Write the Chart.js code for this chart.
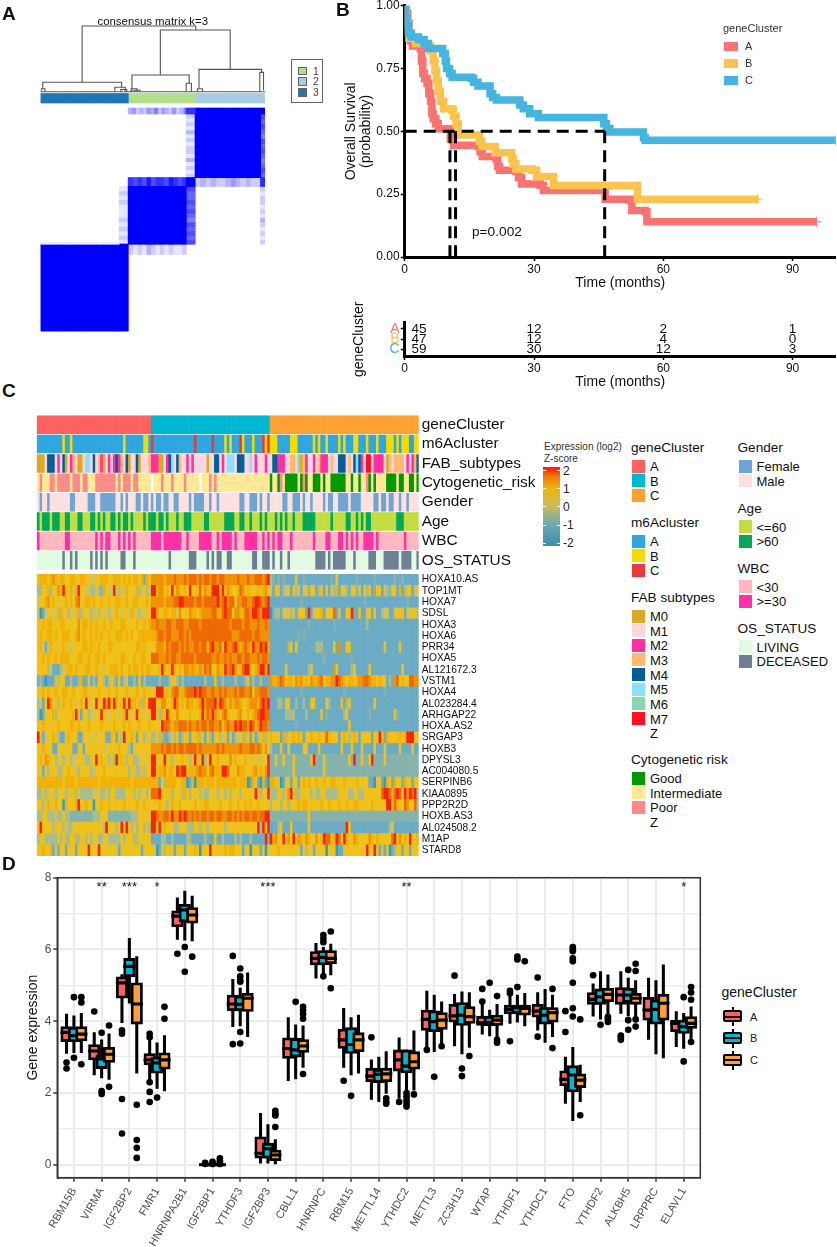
<!DOCTYPE html>
<html>
<head>
<meta charset="utf-8">
<script src="https://cdn.jsdelivr.net/npm/chart.js@4"></script>
<style>
  html, body { margin: 0; background: #fff; }
  #page { position: relative; width: 837px; height: 1247px; overflow: hidden; font-family: "Liberation Sans", Arial, sans-serif; color: #111; }
  canvas { position: absolute; }
  .t { position: absolute; white-space: nowrap; transform: translateY(-50%); }
  .s { position: absolute; }
</style>
</head>
<body>
<div id="page">
  <canvas id="matrixChart" width="340" height="340" style="left:0;top:0"></canvas>
  <canvas id="kmChart" width="497" height="295" style="left:340px;top:0"></canvas>
  <canvas id="riskChart" width="497" height="97" style="left:340px;top:295px"></canvas>
  <canvas id="annoChart" width="540" height="155" style="left:0;top:415px"></canvas>
  <canvas id="heatChart" width="540" height="282" style="left:0;top:573.5px"></canvas>
  <canvas id="boxChart" width="720" height="387" style="left:0;top:860px"></canvas>
</div>
<script>
// --- Panel A data: consensus matrix (samples 0..151) ---
const consensusBlocks = [
  [98, 104, 0, 4, 0.8], [104, 151, 0, 4, 1],
  [104, 148, 4, 47, 1],
  [98, 104, 47, 53, 1], [148, 151, 47, 53, 0.83],
  [59, 98, 53, 92, 1],
  [0, 53, 91, 92, 0.08], [0, 59, 92, 151, 1], [59, 60, 99, 151, 0.05]
];
// patchy strips between clusters: x0, x1, y0, y1, consensus tenths along the strip
const consensusStrips = [
  [59, 98, 0, 4, "3423243524324235"],
  [98, 104, 4, 47, "2121312122131212"],
  [148, 151, 4, 47, "7676576765676"],
  [59, 98, 47, 53, "8787978879878"],
  [104, 148, 47, 53, "2323223432322"],
  [53, 59, 53, 92, "1212111212121"],
  [98, 104, 53, 92, "7667676576767"],
  [148, 151, 53, 92, "2122121321212"],
  [59, 98, 92, 99, "2121321212112"]
];
const consensusGroups = [[0, 59, "3"], [59, 104, "1"], [104, 151, "2"]];
// each node: left x, left bottom, top, right x, right bottom (height as negative row)
const dendroNodes = [
  [0, -11, -11, 151, -11],
  [28, -17.4, -55.4, 104.4, -52.7],
  [80.6, -22.3, -52.7, 127.6, -26.1],
  [61.5, -11, -22.3, 100, -16.7],
  [106.6, -13, -26.1, 148.7, -24.1],
  [1.5, -13, -17.4, 54.6, -14],
  [98, -11, -16.7, 101.5, -11],
  [147.5, -11, -24.1, 150, -12],
  [0.5, -11, -13, 3, -11],
  [50, -11, -14, 57, -11.5],
  [54, -11, -12.5, 58, -11],
  [61, -11, -13, 65, -11],
  [63, -11, -12, 67, -11],
  [105.5, -11, -13, 109, -11]
];

// --- Panel B data: survival steps [month, probability] ---
const survA = [[0, 1], [0.4, 0.97], [0.7, 0.93], [1, 0.89], [1.3, 0.86], [1.8, 0.84], [3.6, 0.83], [3.9, 0.78], [4.2, 0.73], [4.6, 0.71], [5.2, 0.69], [5.6, 0.65], [6, 0.62], [6.3, 0.57], [6.6, 0.55], [7.2, 0.53], [7.8, 0.51], [10.4, 0.51], [10.6, 0.47], [11.3, 0.445], [17, 0.44], [17.5, 0.42], [18, 0.4], [21.2, 0.39], [21.6, 0.36], [22, 0.345], [25.8, 0.34], [26.4, 0.315], [27.1, 0.29], [31.4, 0.285], [32.2, 0.265], [46, 0.265], [46.5, 0.23], [52.3, 0.225], [52.7, 0.185], [55.8, 0.18], [56.2, 0.14], [95.6, 0.14]];
const survB = [[0, 1], [0.3, 0.93], [0.6, 0.89], [1, 0.87], [2.5, 0.85], [5.5, 0.84], [6, 0.82], [6.6, 0.78], [7, 0.74], [7.4, 0.7], [7.8, 0.66], [8.3, 0.62], [9, 0.59], [10.9, 0.585], [11.3, 0.56], [11.9, 0.53], [12.4, 0.485], [16.7, 0.485], [17.3, 0.46], [17.9, 0.44], [20.5, 0.44], [21, 0.415], [24.4, 0.415], [24.8, 0.39], [25.2, 0.37], [25.8, 0.35], [29.5, 0.345], [30.6, 0.32], [34.1, 0.32], [34.5, 0.285], [53.8, 0.285], [54, 0.23], [82, 0.23]];
const survC = [[0, 1], [0.2, 0.95], [0.5, 0.92], [0.9, 0.89], [1.5, 0.875], [3.2, 0.865], [4.5, 0.85], [5.5, 0.83], [8.2, 0.83], [8.8, 0.81], [9.4, 0.78], [9.7, 0.75], [10.4, 0.73], [11, 0.715], [15.5, 0.71], [16, 0.695], [17, 0.68], [19.4, 0.68], [19.8, 0.65], [20.4, 0.635], [21.3, 0.625], [26, 0.625], [26.7, 0.605], [27.5, 0.59], [29, 0.57], [31, 0.555], [45.7, 0.555], [46.2, 0.53], [46.8, 0.51], [47.6, 0.497], [55, 0.497], [55.4, 0.475], [55.8, 0.465], [100, 0.465]];
const medianLines = [[[0, 0.5], [46.4, 0.5]], [[10.5, 0.5], [10.5, 0]], [[11.8, 0.5], [11.8, 0]], [[46.4, 0.5], [46.4, 0]]];
const riskTicks = [0, 30, 60, 90];
const riskLabelAt = [3.3, 30, 60, 90];
const riskGroups = ["A", "B", "C"];
const riskA = [45, 12, 2, 1];
const riskB = [47, 12, 4, 0];
const riskC = [59, 30, 12, 3];

// --- Panel C data: one code per sample, split by gene cluster (45|47|59 samples) ---
const clusterSizes = [45, 47, 59];
const trackNames = ["geneCluster", "m6Acluster", "FAB_subtypes", "Cytogenetic_risk", "Gender", "Age", "WBC", "OS_STATUS"];
const geneClusterTrack = "A|B|C";
const m6aTrack = "aaaaaaaaaabaabaaaaaaaaaaaaaaaaaaaabaaaaaaabba|caaaaaaaaaaaaaaaacaaaaaacaaaababaaacbaaabaaacbc|bbbaaaaabbbaaaaaababaabaaaababaaabbaaabaaabaaabbbababbbaabb";
const fabTrack = "00144412140123100155141320121242314011401113|2200124514311212111110114412155514441151211121|14422211331603211213222131144413145421771222210313333121234";
const cytoTrack = "ipiiippipppppipppippiiippppppppipipppippiiiii|ziiipiiipiiiipiiiiiziiipipiiiiiiiiiiiiiiiiiiiii|giigpigggggigpgiigggigiiggggggiigiigiipgigiiiiggggiggiiggig";
// female / age>60 / WBC>=30 / deceased samples, as [first, end) column ranges
const femaleRanges = [[1,2],[4,5],[13,15],[20,23],[25,31],[33,34],[35,36],[39,41],[42,44],[45,46],[47,49],[50,52],[54,56],[60,61],[62,66],[68,69],[71,72],[80,82],[84,87],[88,89],[91,92],[97,99],[101,104],[105,106],[108,109],[113,114],[115,117],[119,123],[124,128],[133,135],[136,138],[139,141],[143,144],[146,147]];
const ageOldRanges = [[0,1],[2,5],[6,9],[11,13],[16,18],[21,23],[24,25],[26,27],[29,31],[32,33],[34,36],[37,38],[42,43],[44,47],[48,50],[51,52],[55,56],[58,61],[66,68],[74,78],[80,82],[84,85],[88,89],[90,91],[94,95],[96,97],[98,99],[101,102],[105,107],[107,110],[116,117],[122,124],[126,127],[128,129],[130,132],[142,145]];
const wbcHighRanges = [[0,1],[11,13],[23,24],[25,26],[27,29],[32,33],[34,35],[36,37],[38,39],[45,49],[50,57],[59,60],[64,69],[71,72],[73,77],[78,79],[82,87],[89,90],[91,92],[93,94],[95,97],[100,101],[109,110],[114,116],[119,121],[122,123],[124,125],[126,127],[129,133],[134,135],[145,146]];
const deceasedRanges = [[10,11],[13,14],[15,16],[21,22],[23,24],[25,26],[27,28],[33,35],[38,39],[52,53],[60,63],[67,68],[69,70],[71,73],[75,77],[85,87],[89,92],[93,94],[96,97],[99,100],[110,114],[115,116],[117,122],[125,126],[131,134],[137,143],[144,148],[150,151]];

const heatGenes = ["HOXA10.AS", "TOP1MT", "HOXA7", "SDSL", "HOXA3", "HOXA6", "PRR34", "HOXA5", "AL121672.3", "VSTM1", "HOXA4", "AL023284.4", "ARHGAP22", "HOXA.AS2", "SRGAP3", "HOXB3", "DPYSL3", "AC004080.5", "SERPINB6", "KIAA0895", "PPP2R2D", "HOXB.AS3", "AL024508.2", "M1AP", "STARD8"];
// digits 0..9 = binned z-score, low to high
const heatRows = [
  "566656765665566556655445566655666565656656165|77776777877787887878878878877778777877888789|32121211115112111111111121511111112111111211111112112111111",
  "335563557695564695544335326544953546554635534|9677565957656595568576699959576556875655565675|41551345153414525513515143615531552415351255143255161355144",
  "455675654556565785566565565565566556556655565|77776777889988878878888897897857788778998789|11111111111121111111111111111111111112111111111111111121111",
  "401455453655345463555345354534565455465435455|9755665664755576656777788668988577668879987999|02331445341455191455614558141155911511451511344114555144553",
  "556566555665555575665656556556555665555655656|7877788778887788887888888888887888878877787787|11111111111111121111111112111111111111311111111111111111111",
  "565566565566655675655656565565566656565566666|6788788777887878888888888888888777888887887777|11111111111212111111111111111111111111111111111111111111111",
  "564146554565445555665655655566555555555665655|5777687888787877887886897785977897678769779896|11111113515111111133311115171155111111111111151111151111111",
  "556565565666655566556556656555555665556556655|8877787887788888788888877877878778878877787887|11111111111111111111121111111111211111111111111111111111111",
  "555534111345665655566556554556665655656656566|5569656965657767667687855766978975689965679969|11111151111111134111111117511111351111151111111111115111111",
  "131011153551131136115131553135315135113151311|11311135531311111113111511311131113513113111|76678756657675657667856677987656656778876656551317856558877",
  "556565565566556555665555655565565556555655655|5999565788667888989887787787877787887785778887|11111111111121111111111111111211111111111111121111111111111",
  "341597553565565456595459559795965695956563659|955775569756576656797889698757677655677768989|11133155113113115511115311115135111111111511111111111111111",
  "301555635555556951553445595545554569545955545|9536596557555565556968797657865556755656789988|11111133331111311111512111111351111111121111111115211111111",
  "556555556555566565556555565555655565655565556|5559887677888787787887887785787798988798679887|11111111112111111111111111111115111111111111111111111111111",
  "951455653115655511555454555116515395565155345|3536113535135515563515315534515135536515135635|65551635565651556556558655515653565155551559516555565699955",
  "556555115555551155155555554455556555315555555|7778788787887888878777777878777777877788787575|31115115111115511115111111115111511151111511151111151111511",
  "565765534535534455433559565535395653553345455|9555955355565535955935955655557565556545544559|22522522252222225922252222222225292252259222252222222222222",
  "551535553355655435555345556555555555355335355|9566756659899566678775786669985557665556756579|22222222252222222222252222222222222222222222222222222222222",
  "666666666656666566666666566666666666656666666|6615366665566016066656665666666665666016510610|66550155155156565565565566555655556555511055106516551655155",
  "335345534553455353333344533535533335553535535|8895555355536535553533555355353555355555953559|33355357953355553533553333355553355335555555899868985979893",
  "553564565506555695565505565565555565555655655|5565535655655555655566555565556556556565565555|35553553555656655555655655565565566555556555559958655875583",
  "335533343353322222222233355522222222233355555|9877887977989878787887887887788787878878878899|22222222222222252222222222222222222222222222222222222222222",
  "595555355535335555555555553955535959535355353|9595655533555333553553555555355555555555593959|11135111511111151111111111111195111111111111111351111111111",
  "355333335353355335535355335533333535553355555|1113311311111331111131115113111131311131111191|96755957595765765575698856985965576555576565555589575659556",
  "556556141551555155559555955555551555555551555|5015355515551555650555955555656655515505551505|55565555555515355155550555011555555555955951515013551551555"
];

// --- Panel D data: [low whisker, q1, median, q3, high whisker] per gene ---
const boxGenes = ["RBM15B", "VIRMA", "IGF2BP2", "FMR1", "HNRNPA2B1", "IGF2BP1", "YTHDF3", "IGF2BP3", "CBLL1", "HNRNPC", "RBM15", "METTL14", "YTHDC2", "METTL3", "ZC3H13", "WTAP", "YTHDF1", "YTHDC1", "FTO", "YTHDF2", "ALKBH5", "LRPPRC", "ELAVL1"];
const boxA = [[3.1,3.43,3.69,3.85,4.2],[2.5,2.92,3.17,3.35,3.68],[3.96,4.64,5.07,5.24,5.3],[2.25,2.78,2.92,3.1,3.6],[6.28,6.63,6.93,7.08,7.44],[0,0,0,0.01,0.02],[3.85,4.29,4.48,4.73,5.17],[0.04,0.18,0.32,0.78,1.43],[2.34,2.96,3.24,3.54,4.1],[5.2,5.57,5.75,5.94,6.17],[2.71,3.24,3.48,3.78,4.36],[1.82,2.31,2.47,2.69,2.92],[1.85,2.61,2.92,3.2,3.54],[3.22,3.74,4.05,4.31,4.84],[3.31,3.97,4.15,4.47,4.75],[3.64,3.88,3.96,4.14,4.47],[3.94,4.2,4.33,4.45,4.73],[3.75,4.11,4.28,4.47,4.8],[1.71,2.2,2.38,2.62,3],[4.14,4.47,4.61,4.8,5.04],[4.22,4.47,4.73,4.94,5.38],[3.49,4.03,4.31,4.67,5.2],[3.29,3.71,3.94,4.03,4.27]];
const boxB = [[3.12,3.43,3.6,3.83,4.15],[2.42,2.68,2.95,3.06,3.48],[4.5,5.24,5.53,5.75,6.31],[2.13,2.55,2.84,3,3.4],[6.26,6.77,7.1,7.26,7.63],[0,0,0,0.01,0.02],[3.87,4.29,4.47,4.7,4.92],[0.04,0.18,0.45,0.6,1.12],[2.39,3,3.2,3.52,3.9],[5.33,5.57,5.78,5.97,6.06],[2.5,3.1,3.35,3.82,4.1],[1.76,2.29,2.52,2.66,3],[1.95,2.56,2.75,3.2,3.2],[3.15,3.71,3.99,4.29,4.73],[3.09,3.88,4.17,4.52,4.82],[3.59,3.87,3.97,4.14,4.31],[3.97,4.22,4.38,4.45,4.73],[3.41,3.92,4.17,4.38,4.89],[1.23,2.03,2.5,2.76,3.27],[4.06,4.47,4.68,4.9,5.38],[4.15,4.52,4.73,4.92,5.2],[3.09,3.92,4.33,4.59,5.13],[3.24,3.66,3.85,4.03,4.22]];
const boxC = [[3.12,3.45,3.64,3.85,4.22],[2.38,2.85,3.08,3.27,3.65],[2.55,3.92,4.48,5.07,5.8],[2.06,2.66,2.92,3.12,3.6],[6.24,6.73,6.96,7.17,7.49],[0,0,0,0.01,0.02],[3.57,4.27,4.64,4.78,5.35],[0.02,0.11,0.27,0.41,0.7],[2.71,3.13,3.31,3.49,3.87],[5.29,5.6,5.75,5.97,6.15],[2.55,3.15,3.48,3.68,4.17],[1.99,2.31,2.53,2.69,3.15],[2.08,2.66,2.87,3.15,3.73],[3.38,3.77,4.03,4.24,4.54],[3.27,3.94,4.13,4.41,4.8],[3.57,3.88,4.03,4.17,4.47],[3.87,4.17,4.36,4.45,4.78],[3.57,3.97,4.24,4.38,4.73],[1.76,2.15,2.36,2.53,2.78],[4.17,4.54,4.75,4.92,5.29],[4.11,4.47,4.64,4.78,5.13],[2.98,4.03,4.5,4.75,5.57],[3.4,3.8,3.94,4.13,4.4]];
const outliersA = [[2.85,2.68],[4.27],[3.75,3.65,1.83,0.87],[3.65,3.55,2.3,2.03,1.75],[5.88],[0.02,0.05],[5.82,3.36],[],[],[],[2.34],[3.55],[1.75],[3.2],[5.27],[4.9,4.55],[4.85,4.78,3.44],[5.22,3.57],[4.28,3.7],[5.28],[3.6,3.55,3.48],[],[]];
const outliersB = [[4.67,2.98],[3.68,2.05,1.97],[],[1.87],[6.07,5.38],[0.03,0.08,0.02],[5.47,5.25,5.15,5.1,3.7,3.38],[],[4.54],[6.4,6.3,6.2,5.25],[1.92],[],[2,1.9,1.8,1.7,1.62],[2.45],[2.68,2.47],[5.07],[5.8,5.72,4.95],[],[6.07,6,5.95,5.75,5.67,5.07,4.36,4.13],[3.9],[5.43,4.03,3.76],[],[4.67,2.88]];
const outliersC = [[4.67,4.52,2.8],[3.88,2.17],[1.67,0.69,0.47,0.19],[4.4,4.07],[5.8],[0.02,0.05,0.18,0.1],[],[1.5,1.42,1.37,1.05],[4.4,4.3,4.2,4.07,2.53],[6.5,4.92],[],[1.85,1.75,1.7],[1.96],[3.3],[3.03],[4.7,3.48,3.4],[5.67],[4.9,3.25],[4.05,1.38],[4.12,4.05,3.98],[5.6,5.4,4.05,3.85],[],[4.95,4.8,4.6,3.42]];
const starGenes = [1, 2, 3, 7, 12, 22];
const starLabels = ["**", "***", "*", "***", "**", "*"];

// --- Colours ---
const matrixLegend = { "1": "#b2df8a", "2": "#a6cee3", "3": "#1f78b4" };
const kmColors = { A: "#fb7272", B: "#fdc34f", C: "#43b5de" };
const geneClusterColors = { A: "#ff6060", B: "#00b7d1", C: "#ffa033" };
const m6aColors = { a: "#2fa6df", b: "#f2dc00", c: "#e83a3e" };
const fabColors = { 0: "#daa925", 1: "#ffd6e0", 2: "#ff2fa0", 3: "#ffba70", 4: "#005f99", 5: "#88e1ff", 6: "#88d5b0", 7: "#ff1020", z: "#ffffff" };
const cytoColors = { g: "#009a00", i: "#ffe898", p: "#ff8a8a", z: "#ffffff" };
const heatPalette = ["#2f9ec6", "#6cabc4", "#85b3ab", "#a9bc8c", "#d6c254", "#efc21b", "#f2b107", "#f09205", "#ee6a04", "#f5240a"];

const FONT = '"Liberation Sans", Arial, sans-serif';
Chart.defaults.font.family = FONT;
Chart.defaults.animation = false;
Chart.defaults.responsive = false;
Chart.defaults.maintainAspectRatio = false;
Chart.defaults.layout.autoPadding = false;
Chart.defaults.plugins.legend.display = false;
Chart.defaults.plugins.tooltip.enabled = false;

// --- Helpers ---
// pin the axis size and drop the label overhang so the plot area lands where we want it
const fixWidth = w => s => { s.width = w; s.paddingTop = 0; s.paddingBottom = 0; };
const fixHeight = h => s => { s.height = h; s.paddingLeft = 0; s.paddingRight = 0; };
const fixedTicks = list => s => { s.ticks = list.map(value => ({ value })); };

// draws ds.textLabels at each point of a dataset
const textMarks = {
  id: "textMarks",
  afterDatasetsDraw(chart) {
    const c = chart.ctx;
    chart.data.datasets.forEach((ds, i) => {
      if (!ds.textLabels) return;
      c.save();
      c.font = ds.textFont;
      c.fillStyle = "#111";
      c.textAlign = ds.textAlign || "center";
      c.textBaseline = "middle";
      chart.getDatasetMeta(i).data.forEach((p, k) => c.fillText(ds.textLabels[k], p.x, p.y));
      c.restore();
    });
  }
};
const frame = {
  id: "frame",
  afterDraw(chart) {
    const a = chart.chartArea, c = chart.ctx;
    c.save();
    c.strokeStyle = "#333";
    c.lineWidth = 1.5;
    c.strokeRect(a.left, a.top, a.right - a.left, a.bottom - a.top);
    c.restore();
  }
};

// --- Panel A ---
const consensusColor = v => {
  const g = Math.round(255 * (1 - v));
  return `rgb(${g},${g},255)`;
};
function blockDataset(x0, x1, y0, y1, color) {
  const data = [];
  for (let c = x0; c < x1; c++) data.push({ x: c + 0.5, y: [y0, y1] });
  return { type: "bar", data, backgroundColor: color, barThickness: 1.7, grouped: false, order: 2 };
}
function stripDatasets(s) {
  const [x0, x1, y0, y1, tenths] = s;
  const alongX = x1 - x0 > y1 - y0;
  const span = alongX ? x1 - x0 : y1 - y0;
  return tenths.split("").map((d, i) => {
    const a = i * span / tenths.length, b = (i + 1) * span / tenths.length;
    const color = consensusColor(+d / 10);
    return alongX
      ? blockDataset(x0 + Math.round(a), x0 + Math.round(b), y0, y1, color)
      : blockDataset(x0, x1, y0 + a, y0 + b, color);
  });
}
new Chart(document.getElementById("matrixChart"), {
  type: "bar",
  data: {
    datasets: [
      ...consensusBlocks.map(b => blockDataset(b[0], b[1], b[2], b[3], consensusColor(b[4]))),
      ...consensusStrips.flatMap(stripDatasets),
      ...consensusGroups.map(g => blockDataset(g[0], g[1], -9.8, -3.4, matrixLegend[g[2]])),
      ...dendroNodes.map(n => ({
        type: "scatter",
        showLine: true,
        data: [{ x: n[0], y: n[1] }, { x: n[0], y: n[2] }, { x: n[3], y: n[2] }, { x: n[3], y: n[4] }],
        borderColor: "#555",
        borderWidth: 1.1,
        pointRadius: 0,
        order: 1
      }))
    ]
  },
  options: {
    layout: { padding: { left: 40.5, top: 19.2, right: 75, bottom: 8.5 } },
    scales: {
      x: { type: "linear", min: 0, max: 151, display: false, offset: false },
      y: { type: "linear", min: -60, max: 151, reverse: true, display: false }
    }
  }
});

// --- Panel B: survival curves ---
const toPoints = list => list.map(p => ({ x: p[0], y: p[1] }));
const kmCurve = (list, color, order) => ({
  data: toPoints(list),
  showLine: true,
  stepped: "before",
  borderColor: color,
  borderWidth: 7.5,
  borderJoinStyle: "miter",
  pointStyle: "cross",
  pointBorderColor: color,
  pointBorderWidth: 1,
  pointRadius: ctx => (ctx.dataIndex === list.length - 1 ? 5 : 0),
  order
});
const blackAxis = {
  border: { color: "#000", width: 3 },
  grid: { display: true, drawOnChartArea: false, drawTicks: true, tickLength: 4, tickColor: "#000", tickWidth: 1.5 }
};
new Chart(document.getElementById("kmChart"), {
  type: "scatter",
  data: {
    datasets: [
      kmCurve(survA, kmColors.A, 4),
      kmCurve(survB, kmColors.B, 3),
      kmCurve(survC, kmColors.C, 2),
      ...medianLines.map(l => ({
        data: toPoints(l), showLine: true, borderColor: "#000", borderWidth: 3, borderDash: [12, 7], pointRadius: 0, order: 1
      })),
      { data: [{ x: 21.4, y: 0.1 }], pointRadius: 0, textLabels: ["p=0.002"], textFont: "13.7px " + FONT, order: 0 }
    ]
  },
  plugins: [textMarks],
  options: {
    layout: { padding: { top: 5.7, right: 1.3 } },
    scales: {
      x: {
        ...blackAxis, type: "linear", min: 0, max: 100,
        afterBuildTicks: fixedTicks(riskTicks), afterFit: fixHeight(38),
        ticks: { color: "#111", font: { size: 12 }, padding: 1, maxRotation: 0 },
        title: { display: true, text: "Time (months)", color: "#111", font: { size: 14 }, padding: { top: 0, bottom: 3 } }
      },
      y: {
        ...blackAxis, type: "linear", min: 0, max: 1,
        afterBuildTicks: fixedTicks([0, 0.25, 0.5, 0.75, 1]), afterFit: fixWidth(64.7),
        ticks: { color: "#111", font: { size: 12 }, padding: 1, callback: v => v.toFixed(2) },
        title: { display: true, text: ["Overall Survival", "(probability)"], color: "#111", font: { size: 14, lineHeight: 1.1 }, padding: { top: 3, bottom: 0 } }
      }
    }
  }
});

// --- Panel B: number at risk ---
const riskSeries = [riskA, riskB, riskC];
new Chart(document.getElementById("riskChart"), {
  type: "scatter",
  data: {
    datasets: riskSeries.map((series, row) => ({
      data: riskLabelAt.map(x => ({ x, y: row + 1 })),
      pointRadius: 0,
      textLabels: series,
      textFont: "13.5px " + FONT
    }))
  },
  plugins: [textMarks],
  options: {
    layout: { padding: { top: 27.7, right: 1.3 } },
    scales: {
      x: {
        ...blackAxis, type: "linear", min: 0, max: 100,
        afterBuildTicks: fixedTicks(riskTicks), afterFit: fixHeight(36),
        ticks: { color: "#111", font: { size: 12 }, padding: 1, maxRotation: 0 },
        title: { display: true, text: "Time (months)", color: "#111", font: { size: 14 }, padding: { top: 0, bottom: 1.5 } }
      },
      y: {
        ...blackAxis, type: "linear", min: 0.4, max: 3.65, reverse: true,
        afterBuildTicks: fixedTicks([1, 2, 3]), afterFit: fixWidth(64.7),
        ticks: {
          font: { size: 14 }, padding: 1, autoSkip: false,
          color: ctx => kmColors[riskGroups[ctx.index]],
          callback: v => riskGroups[v - 1]
        },
        title: { display: true, text: "geneCluster", color: "#111", font: { size: 14 }, padding: { top: 11, bottom: 0 } }
      }
    }
  }
});

// --- Panel C ---
function expandCodes(str) {
  const out = [];
  str.split("|").forEach((seg, g) => {
    const n = clusterSizes[g];
    for (let j = 0; j < n; j++) out.push(seg[Math.floor(j * seg.length / n)]);
  });
  return out;
}
function rangesToColors(ranges, on, off) {
  const out = new Array(151).fill(off);
  ranges.forEach(r => { for (let c = r[0]; c < r[1]; c++) out[c] = on; });
  return out;
}
function cellChart(id, labels, colorRows, opts) {
  const datasets = [];
  for (let j = 0; j < 151; j++) {
    datasets.push({
      data: labels.map(() => [j, j + 1]),
      backgroundColor: colorRows.map(r => r[j]),
      barPercentage: opts.barPct,
      categoryPercentage: 1,
      grouped: false,
      inflateAmount: 0.3
    });
  }
  new Chart(document.getElementById(id), {
    type: "bar",
    data: { labels, datasets },
    options: {
      indexAxis: "y",
      layout: { padding: { left: 36.7 } },
      scales: {
        x: { type: "linear", min: 0, max: 151, display: false },
        y: {
          position: "right",
          afterFit: fixWidth(121.3),
          border: { display: false },
          grid: { display: false, drawTicks: false },
          ticks: { color: "#111", font: { size: opts.fontSize }, padding: 3, autoSkip: false }
        }
      }
    }
  });
}
cellChart("annoChart", trackNames, [
  expandCodes(geneClusterTrack).map(c => geneClusterColors[c]),
  expandCodes(m6aTrack).map(c => m6aColors[c]),
  expandCodes(fabTrack).map(c => fabColors[c]),
  expandCodes(cytoTrack).map(c => cytoColors[c]),
  rangesToColors(femaleRanges, "#6fa5d3", "#ffe0e0"),
  rangesToColors(ageOldRanges, "#00a858", "#c2dc42"),
  rangesToColors(wbcHighRanges, "#ff2fa5", "#ffb8c0"),
  rangesToColors(deceasedRanges, "#6d7f95", "#e0fbdf")
], { barPct: 0.93, fontSize: 15.4 });
cellChart("heatChart", heatGenes, heatRows.map(r => expandCodes(r).map(c => heatPalette[+c])), { barPct: 1, fontSize: 10.2 });

// --- Panel D ---
const DODGE = 0.267;
function boxDatasets(rows, outliers, color, shift, baseOrder) {
  const at = i => i + shift * DODGE;
  const dots = [];
  outliers.forEach((list, i) => list.forEach(v => dots.push({ x: at(i), y: v })));
  return [
    { type: "scatter", data: dots, backgroundColor: "#000", pointRadius: 3.3, order: baseOrder + 3 },
    { type: "bar", data: rows.map((b, i) => ({ x: at(i), y: [b[0], b[4]] })), backgroundColor: "#000", barThickness: 2.4, grouped: false, order: baseOrder + 2 },
    { type: "bar", data: rows.map((b, i) => ({ x: at(i), y: [b[1], b[3]] })), backgroundColor: color, borderColor: "#000", borderWidth: 2.8, borderSkipped: false, barThickness: 11.5, grouped: false, order: baseOrder + 1 },
    { type: "bar", data: rows.map((b, i) => ({ x: at(i), y: [b[2] - 0.035, b[2] + 0.035] })), backgroundColor: "#000", barThickness: 11.5, grouped: false, order: baseOrder }
  ];
}
new Chart(document.getElementById("boxChart"), {
  type: "bar",
  data: {
    datasets: [
      { type: "scatter", data: starGenes.map(i => ({ x: i, y: 7.72 })), pointRadius: 0, textLabels: starLabels, textFont: "13px " + FONT, order: 0 },
      ...boxDatasets(boxC, outliersC, geneClusterColors.C, 1, 1),
      ...boxDatasets(boxB, outliersB, geneClusterColors.B, 0, 5),
      ...boxDatasets(boxA, outliersA, geneClusterColors.A, -1, 9)
    ]
  },
  plugins: [textMarks, frame],
  options: {
    layout: { padding: { left: 0, top: 17.7, right: 19.7 } },
    scales: {
      x: {
        type: "linear", min: -0.6, max: 22.6, offset: false,
        afterBuildTicks: fixedTicks(boxGenes.map((g, i) => i)), afterFit: fixHeight(69.3),
        border: { color: "#333", width: 1.5 },
        grid: { offset: false, color: "#ebebeb", lineWidth: 2, tickLength: 4, tickColor: "#333", tickWidth: 1.5 },
        ticks: { color: "#4d4d4d", font: { size: 11 }, padding: 4, autoSkip: false, minRotation: 60, maxRotation: 60, callback: v => boxGenes[v] }
      },
      y: {
        type: "linear", min: -0.362, max: 8,
        afterBuildTicks: fixedTicks([0, 1, 2, 3, 4, 5, 6, 7, 8]), afterFit: fixWidth(57.3),
        border: { color: "#333", width: 1.5 },
        grid: {
          color: "#ebebeb",
          lineWidth: ctx => (ctx.tick && ctx.tick.value % 2 ? 1.2 : 2),
          tickLength: 4,
          tickWidth: 1.5,
          tickColor: ctx => (ctx.tick && ctx.tick.value % 2 ? "rgba(0,0,0,0)" : "#333")
        },
        ticks: { color: "#4d4d4d", font: { size: 12 }, padding: 2, callback: v => (v % 2 ? "" : v) },
        title: { display: true, text: "Gene expression", color: "#111", font: { size: 14 }, padding: { top: 25, bottom: 0 } }
      }
    }
  }
});

// --- Text, legends (page-level, no chart marks) ---
const page = document.getElementById("page");
function text(x, y, str, size, extra) {
  const d = document.createElement("div");
  d.className = "t";
  d.textContent = str;
  d.style.cssText = `left:${x}px;top:${y}px;font-size:${size}px;${extra || ""}`;
  page.appendChild(d);
}
function box(x, y, w, h, css) {
  const d = document.createElement("div");
  d.className = "s";
  d.style.cssText = `left:${x}px;top:${y}px;width:${w}px;height:${h}px;${css}`;
  page.appendChild(d);
}
text(2, 14, "A", 19, "font-weight:bold");
text(336, 10, "B", 19, "font-weight:bold");
text(2, 391, "C", 19, "font-weight:bold");
text(2, 864, "D", 19, "font-weight:bold");

// panel A legend and title
text(97.5, 21, "consensus matrix k=3", 11.4);
box(291, 59, 30, 42, "border:1px solid #666");
["1", "2", "3"].forEach((k, i) => {
  box(298, 66.5 + i * 10.8, 6.5, 6.5, `background:${matrixLegend[k]};border:1px solid #666`);
  text(313, 70.5 + i * 10.8, k, 10.5, "color:#444");
});

// panel B legend
text(723, 28, "geneCluster", 11, "color:#333");
["A", "B", "C"].forEach((k, i) => {
  box(724, 42 + i * 17.2, 14, 8.5, `background:${kmColors[k]}`);
  text(745, 46 + i * 17.2, k, 11, "color:#333");
});

// panel C legends
text(544, 446, "Expression (log2)", 10, "color:#333");
text(544, 457.5, "Z-score", 10, "color:#333");
box(543, 467, 16.5, 79, "background:linear-gradient(to top,#3b8fa8 0%,#68a6b7 26%,#c8bd5a 50%,#eeb60f 73%,#ee7a0a 88%,#ff1500 100%)");
["2", "1", "0", "-1", "-2"].forEach((k, i) => {
  const y = 470.7 + i * 18.1;
  box(543, y - 0.5, 3, 1, "background:#fff");
  box(556.5, y - 0.5, 3, 1, "background:#fff");
  text(563, y, k, 12, "color:#222");
});
function legendGroup(x, y, title, labels, colors, lineGap) {
  text(x, y, title, 13.6);
  labels.forEach((label, i) => {
    const cy = y + 19 + i * (lineGap || 14.65);
    if (colors[i]) box(x + 1, cy - 6.5, 13, 13, `background:${colors[i]}`);
    text(x + 19, cy, label, 13);
  });
}
const clusterLabels = ["A", "B", "C"];
legendGroup(631, 447, "geneCluster", clusterLabels, clusterLabels.map(k => geneClusterColors[k]));
legendGroup(631, 522, "m6Acluster", clusterLabels, ["a", "b", "c"].map(k => m6aColors[k]));
legendGroup(631, 597, "FAB subtypes", ["M0", "M1", "M2", "M3", "M4", "M5", "M6", "M7", "Z"], [0, 1, 2, 3, 4, 5, 6, 7].map(k => fabColors[k]));
legendGroup(631, 759, "Cytogenetic risk", ["Good", "Intermediate", "Poor", "Z"], ["g", "i", "p"].map(k => cytoColors[k]));
legendGroup(737.5, 447, "Gender", ["Female", "Male"], ["#6fa5d3", "#ffe0e0"]);
legendGroup(737.5, 507.7, "Age", ["<=60", ">60"], ["#c2dc42", "#00a858"]);
legendGroup(737.5, 567.7, "WBC", ["<30", ">=30"], ["#ffb8c0", "#ff2fa5"]);
legendGroup(737.5, 627.7, "OS_STATUS", ["LIVING", "DECEASED"], ["#e0fbdf", "#6d7f95"]);

// panel D legend
text(721.5, 992, "geneCluster", 14);
clusterLabels.forEach((k, i) => {
  const cy = 1016.7 + i * 21.7;
  box(731.5, cy - 9.5, 2, 19, "background:#000");
  box(723, cy - 6.5, 14.5, 8, `background:${geneClusterColors[k]};border:2.4px solid #000;border-radius:2px`);
  box(723, cy - 1, 19, 2, "background:#000");
  text(750, cy, k, 11, "color:#222");
});
</script>
</body>
</html>
